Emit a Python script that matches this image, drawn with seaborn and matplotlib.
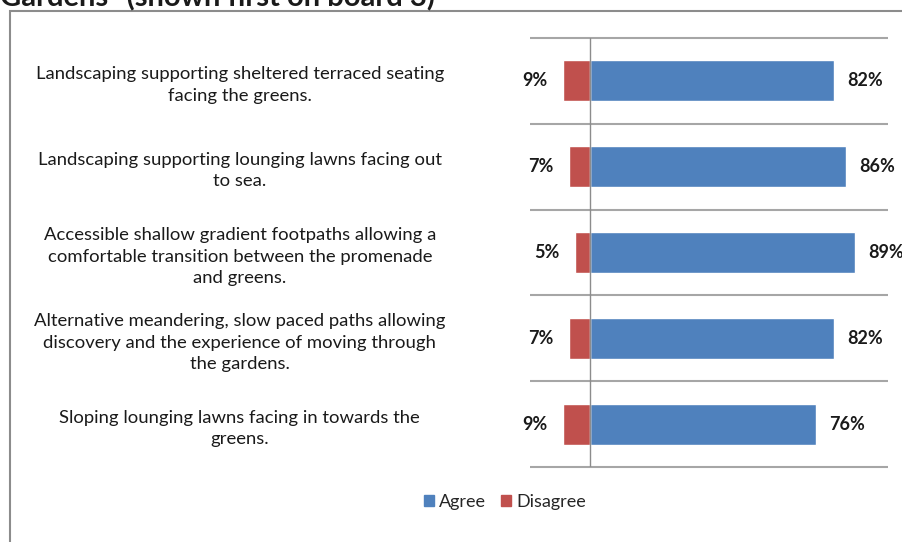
import matplotlib.pyplot as plt
import matplotlib.patches as mpatches
import pandas as pd
import seaborn as sns

# Survey statements and responses (percent)
items = [
    "Landscaping supporting sheltered terraced seating\nfacing the greens.",
    "Landscaping supporting lounging lawns facing out\nto sea.",
    "Accessible shallow gradient footpaths allowing a\ncomfortable transition between the promenade\nand greens.",
    "Alternative meandering, slow paced paths allowing\ndiscovery and the experience of moving through\nthe gardens.",
    "Sloping lounging lawns facing in towards the\ngreens.",
]
agree = [82, 86, 89, 82, 76]
disagree = [9, 7, 5, 7, 9]

df = pd.DataFrame({
    "item": items * 2,
    "value": agree + [-d for d in disagree],
    "response": ["Agree"] * len(items) + ["Disagree"] * len(items),
})

sns.set_style("white")
plt.rcParams["font.family"] = ["Lato", "DejaVu Sans"]

fig = plt.figure(figsize=(9.03, 5.42), dpi=100)
ax = fig.add_axes([0.587, 0.138, 0.396, 0.792])

sns.barplot(data=df, y="item", x="value", hue="response", dodge=False,
            orient="h", width=0.48, order=items,
            palette={"Agree": "#4F81BD", "Disagree": "#C0504D"},
            saturation=1, ax=ax, legend=False)

ax.set_xlim(-20, 100)
ax.set_ylim(len(items) - 0.5, -0.5)
ax.set_xlabel("")
ax.set_ylabel("")
ax.set_xticks([])
sns.despine(ax=ax, left=True, bottom=True)

# category separators and zero line
ax.hlines([i - 0.5 for i in range(len(items) + 1)], -20, 100,
          color="#a6a6a6", lw=1.5, clip_on=False)
ax.axvline(0, color="#8c8c8c", lw=1.0)

# value labels
for i, (a, d) in enumerate(zip(agree, disagree)):
    ax.text(a + 4.5, i, f"{a}%", va="center", ha="left",
            fontsize=13, fontweight="bold", color="#1a1a1a", clip_on=False)
    ax.text(-d - 5, i, f"{d}%", va="center", ha="right",
            fontsize=13, fontweight="bold", color="#1a1a1a")

ax.tick_params(axis="y", length=0, pad=209, labelsize=13.3, labelcolor="#1a1a1a")
for lab in ax.get_yticklabels():
    lab.set_horizontalalignment("center")
    lab.set_multialignment("center")
    lab.set_linespacing(1.4)

handles = [mpatches.Patch(color="#4F81BD", label="Agree"),
           mpatches.Patch(color="#C0504D", label="Disagree")]
fig.legend(handles=handles, loc="center", bbox_to_anchor=(0.559, 0.074),
           ncol=2, frameon=False, fontsize=13, handlelength=0.55,
           handleheight=0.55, handletextpad=0.3, columnspacing=0.8)

# outer chart border and title (cut off at the top, as in the source)
fig.patches.append(mpatches.Rectangle((10 / 903, -0.1), 1.2, 1 - 11 / 542 + 0.1,
                                      transform=fig.transFigure, fill=False,
                                      edgecolor="#8c8c8c", lw=1.5))
fig.text(0.0, 1 - 6 / 542, "Gardens\" (shown first on board 3)", ha="left",
         va="baseline", fontsize=21, fontweight="bold", color="#1a1a1a")

fig.savefig("out.png", dpi=100)
